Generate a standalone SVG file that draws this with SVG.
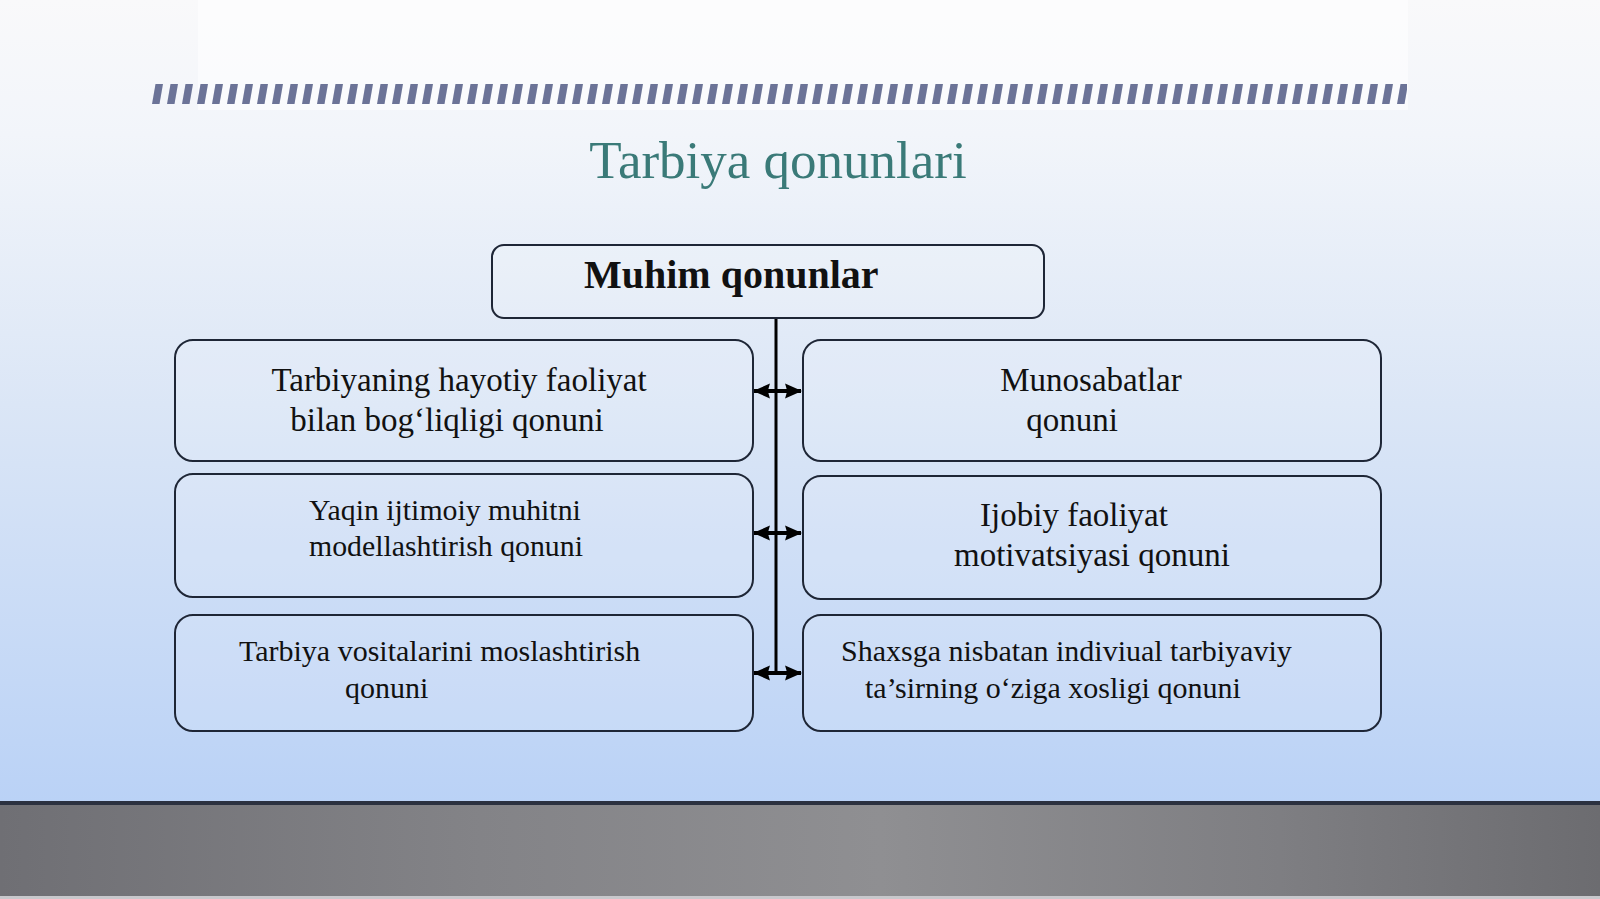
<svg xmlns="http://www.w3.org/2000/svg" width="1600" height="899" viewBox="0 0 1600 899">
<defs>
<linearGradient id="bg" x1="0" y1="0" x2="0" y2="1">
<stop offset="0" stop-color="#f9f9fa"/>
<stop offset="0.15" stop-color="#f2f5fa"/>
<stop offset="0.45" stop-color="#dbe6f6"/>
<stop offset="1" stop-color="#b2cdf6"/>
</linearGradient>
<linearGradient id="floor" x1="0" y1="0" x2="1" y2="0">
<stop offset="0" stop-color="#6f6f74"/>
<stop offset="0.3" stop-color="#838387"/>
<stop offset="0.55" stop-color="#8f8f92"/>
<stop offset="0.8" stop-color="#7e7e82"/>
<stop offset="1" stop-color="#6c6c70"/>
</linearGradient>
<pattern id="dash" x="152" y="84" width="15" height="20" patternUnits="userSpaceOnUse">
<polygon points="3.5,0 11,0 7.5,20 0,20" fill="#6b7397"/>
</pattern>
<marker id="ah" viewBox="0 0 16 16" refX="15" refY="8" markerWidth="17" markerHeight="17" markerUnits="userSpaceOnUse" orient="auto-start-reverse">
<path d="M0,1 L16,8 L0,15 L2,8 Z" fill="#000"/>
</marker>
<style>
.box{fill:#ffffff;fill-opacity:0.12;stroke:#1e2636;stroke-width:2}
.t{font-family:"Liberation Serif","Times New Roman",serif;fill:#111}
.t33{font-size:33px}
.t30{font-size:30px}
.conn{stroke:#000;stroke-width:3;fill:none}
.arr{stroke:#000;stroke-width:4;fill:none}
</style>
</defs>
<rect x="0" y="0" width="1600" height="899" fill="url(#bg)"/>
<rect x="198" y="0" width="1210" height="110" fill="#ffffff" opacity="0.5"/>
<rect x="152" y="84" width="1255" height="20" fill="url(#dash)"/>
<rect x="0" y="802" width="1600" height="97" fill="url(#floor)"/>
<rect x="0" y="801" width="1600" height="4" fill="#2b3140"/>
<rect x="0" y="896" width="1600" height="3" fill="#c8c8cc"/>
<text x="778" y="178" text-anchor="middle" font-family="Liberation Serif, serif" font-size="53" fill="#3a7a78">Tarbiya qonunlari</text>
<g id="connectors">
<line class="conn" x1="776" y1="318" x2="776" y2="673"/>
<line class="arr" x1="754" y1="391" x2="801" y2="391" marker-start="url(#ah)" marker-end="url(#ah)"/>
<line class="arr" x1="754" y1="533" x2="801" y2="533" marker-start="url(#ah)" marker-end="url(#ah)"/>
<line class="arr" x1="754" y1="673" x2="801" y2="673" marker-start="url(#ah)" marker-end="url(#ah)"/>
</g>
<g id="main">
<rect class="box" x="492" y="245" width="552" height="73" rx="12"/>
<text class="t" x="584" y="288" font-size="40" font-weight="bold">Muhim qonunlar</text>
</g>
<g id="n1">
<rect class="box" x="175" y="340" width="578" height="121" rx="18"/>
<text class="t t33" x="459" y="391" text-anchor="middle">Tarbiyaning hayotiy faoliyat</text>
<text class="t t33" x="447" y="431" text-anchor="middle">bilan bog‘liqligi qonuni</text>
</g>
<g id="n2">
<rect class="box" x="803" y="340" width="578" height="121" rx="18"/>
<text class="t t33" x="1091" y="391" text-anchor="middle">Munosabatlar</text>
<text class="t t33" x="1072" y="431" text-anchor="middle">qonuni</text>
</g>
<g id="n3">
<rect class="box" x="175" y="474" width="578" height="123" rx="18"/>
<text class="t" x="309" y="520" font-size="29.8">Yaqin ijtimoiy muhitni</text>
<text class="t" x="309" y="556" font-size="29.8">modellashtirish qonuni</text>
</g>
<g id="n4">
<rect class="box" x="803" y="476" width="578" height="123" rx="18"/>
<text class="t t33" x="1074" y="526" text-anchor="middle">Ijobiy faoliyat</text>
<text class="t t33" x="1092" y="566" text-anchor="middle">motivatsiyasi qonuni</text>
</g>
<g id="n5">
<rect class="box" x="175" y="615" width="578" height="116" rx="18"/>
<text class="t t30" x="239" y="661">Tarbiya vositalarini moslashtirish</text>
<text class="t t30" x="345" y="698">qonuni</text>
</g>
<g id="n6">
<rect class="box" x="803" y="615" width="578" height="116" rx="18"/>
<text class="t t30" x="841" y="661">Shaxsga nisbatan indiviual tarbiyaviy</text>
<text class="t t30" x="865" y="698">ta’sirning o‘ziga xosligi qonuni</text>
</g>
</svg>
